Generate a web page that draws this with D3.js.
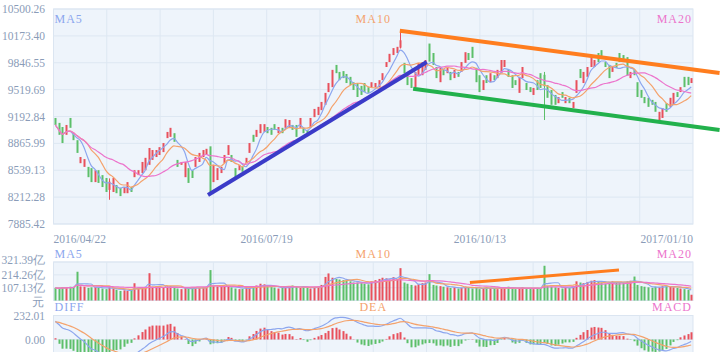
<!DOCTYPE html>
<html>
<head>
<meta charset="utf-8">
<script src="https://cdn.jsdelivr.net/npm/d3@7"></script>
<style>
  body { margin: 0; background: #fff; }
  svg { display: block; font-family: "Liberation Serif", "DejaVu Serif", serif; }
</style>
</head>
<body>
<div id="chart"></div>
<script>
// daily candles (index 0 = 2016/04/22)
const opens = [
  9175, 9115, 9065, 8970, 9175, 8990, 8905, 8625, 8580, 8580,
  8565, 8395, 8540, 8480, 8445, 8300, 8275, 8360, 8325, 8260,
  8260, 8335, 8455, 8480, 8505, 8540, 8605, 8665, 8700, 8725,
  8760, 8930, 8945, 8990, 8665, 8605, 8455, 8565, 8540, 8580,
  8640, 8700, 8725, 8830, 8395, 8420, 8505, 8625, 8725, 8725,
  8565, 8540, 8580, 8625, 8750, 8970, 8945, 8990, 9005, 9065,
  9055, 9100, 8990, 9055, 9055, 9065, 9090, 9090, 9055, 9055,
  9030, 9055, 9185, 9210, 9270, 9335, 9490, 9550, 9820, 9735,
  9745, 9710, 9675, 9610, 9600, 9565, 9600, 9550, 9550, 9550,
  9550, 9635, 9795, 9855, 9940, 9965, 10030, 9845, 9720, 9660,
  9550, 9695, 9695, 9760, 10080, 9965, 9795, 9610, 9760, 9720,
  9735, 9660, 9735, 9735, 9845, 9965, 10040, 9785, 9695, 9515,
  9695, 9610, 9695, 9660, 9720, 9795, 9760, 9695, 9635, 9480,
  9660, 9600, 9550, 9455, 9635, 9720, 9700, 9575, 9515, 9455,
  9355, 9490, 9355, 9420, 9295, 9480, 9770, 9600, 9675, 9795,
  9795, 9965, 10000, 9855, 9820, 9735, 9845, 9965, 9940, 9915,
  9660, 9760, 9610, 9515, 9430, 9420, 9395, 9370, 9150, 9175,
  9355, 9310, 9335, 9490, 9490, 9675, 9675, 9600
];
const closes = [
  9090, 8970, 8870, 9090, 9055, 8905, 8750, 8700, 8675, 8455,
  8395, 8540, 8385, 8335, 8275, 8400, 8445, 8260, 8225, 8335,
  8395, 8275, 8540, 8540, 8640, 8690, 8810, 8785, 8785, 8820,
  8870, 9005, 9055, 8885, 8580, 8640, 8640, 8385, 8445, 8700,
  8750, 8785, 8800, 8260, 8605, 8565, 8580, 8725, 8845, 8640,
  8455, 8605, 8520, 8690, 8870, 8885, 9030, 9100, 9100, 8990,
  8970, 9030, 9065, 8990, 9160, 9150, 9030, 8945, 9175, 8990,
  8970, 9175, 9285, 9310, 9370, 9480, 9600, 9760, 9720, 9635,
  9660, 9600, 9575, 9515, 9430, 9455, 9490, 9480, 9610, 9600,
  9635, 9720, 9855, 9955, 10025, 10040, 10120, 9720, 9575, 9540,
  9735, 9845, 9855, 9880, 9860, 9820, 9660, 9785, 9695, 9785,
  9635, 9760, 9675, 9855, 9975, 9880, 9905, 9610, 9490, 9635,
  9600, 9720, 9635, 9760, 9880, 9880, 9675, 9540, 9575, 9675,
  9795, 9515, 9490, 9540, 9515, 9540, 9560, 9420, 9335, 9335,
  9430, 9420, 9430, 9355, 9370, 9635, 9660, 9735, 9795, 9905,
  9880, 9855, 9905, 9795, 9660, 9795, 9785, 9855, 9855, 9695,
  9735, 9695, 9430, 9420, 9355, 9310, 9335, 9250, 9250, 9295,
  9250, 9420, 9480, 9430, 9550, 9550, 9575, 9660
];
// long shadows that stick out of the body: [index, high, low]
const wicks = [[15, 8440, 8180], [96, 10245, 10020], [136, 9735, 9150]];

// turnover in 亿元
const volumes = [
  105, 100, 110, 108, 115, 112, 240, 118, 115, 105,
  110, 112, 108, 100, 95, 110, 100, 90, 80, 85,
  80, 88, 144, 100, 105, 110, 228, 110, 105, 108,
  112, 118, 120, 110, 100, 95, 105, 100, 98, 110,
  105, 112, 115, 254, 120, 118, 115, 118, 122, 110,
  100, 95, 98, 110, 105, 115, 125, 140, 135, 120,
  112, 108, 100, 105, 110, 118, 125, 115, 105, 112,
  108, 100, 110, 115, 130, 197, 226, 190, 180, 175,
  170, 165, 160, 150, 150, 145, 140, 135, 160, 170,
  180, 190, 185, 175, 195, 180, 270, 150, 140, 130,
  125, 135, 145, 150, 220, 130, 125, 120, 115, 110,
  105, 110, 100, 105, 115, 110, 100, 105, 95, 100,
  110, 105, 100, 95, 105, 110, 115, 100, 95, 100,
  110, 105, 100, 95, 98, 105, 290, 120, 115, 110,
  105, 100, 110, 105, 115, 160, 150, 145, 155, 165,
  170, 160, 150, 140, 150, 160, 155, 150, 145, 160,
  165, 200, 130, 120, 115, 110, 105, 115, 110, 120,
  125, 115, 110, 105, 100, 95, 90, 48
];

const dateLabels = ["2016/04/22", "2016/07/19", "2016/10/13", "2017/01/10"];
const priceTicks = [7885.42, 8212.28, 8539.13, 8865.99, 9192.84, 9519.69, 9846.55, 10173.40, 10500.26];
const volTicks = [107.13, 214.26, 321.39];
const macdTicks = [0, 232.01];

// DIFF / DEA at the left edge of the MACD panel (history before the window)
const diffStart = 177, deaStart = 171;

// hand drawn trend lines: [index, value] pairs
const blueLine = [[42.5, 8238], [103.4, 9855]];
const orangeLine = [[95.9, 10236], [184.9, 9722]];
const greenLine = [[99.6, 9530], [184.9, 9028]];
const volLine = [[115.4, 150], [156.9, 254]];

const W = 720, H = 352;
const up = "#e8505c", down = "#5cbf6a";
const c5 = "#8ca6ee", c10 = "#f4a26c", c20 = "#ec74cc";
const labelColor = "#8a9cb8";

const svg = d3.select("#chart").append("svg")
    .attr("width", W).attr("height", H);

const N = closes.length;
const left = 53.5, right = 693;
const x = d3.scaleLinear().domain([-0.5, N - 0.5]).range([left, right]);
const yMain = d3.scaleLinear().domain([7885.42, 10500.26]).range([224, 9]);
const yVol = d3.scaleLinear().domain([0, 321.39]).range([300.5, 262]);
const yMacd = d3.scaleLinear().domain([0, 232.01]).range([339.5, 315.5]);

// moving averages
const ma = (arr, n) => arr.map((d, i) => d3.mean(arr.slice(Math.max(0, i - n + 1), i + 1)));

// MACD 12/26/9
let e26 = closes[0] - 60, e12 = e26 + diffStart, dea = deaStart;
const diff = [], deaArr = [], hist = [];
closes.forEach((c, i) => {
    if (i > 0) {
        e12 += (c - e12) * 2 / 13;
        e26 += (c - e26) * 2 / 27;
        dea += ((e12 - e26) - dea) * 2 / 10;
    }
    diff.push(e12 - e26);
    deaArr.push(dea);
    hist.push(2 * (e12 - e26 - dea));
});

// panel backgrounds + grid
function panel(top, bottom, hTicks) {
    const g = svg.append("g");
    g.append("rect")
        .attr("x", left).attr("y", top)
        .attr("width", right - left).attr("height", bottom - top)
        .attr("fill", "#eef4fb").attr("stroke", "#dbe5f1");
    g.selectAll(".v").data(d3.range(1, 12)).join("line")
        .attr("x1", d => left + d * (right - left) / 12)
        .attr("x2", d => left + d * (right - left) / 12)
        .attr("y1", top).attr("y2", bottom)
        .attr("stroke", "#dde7f2");
    g.selectAll(".h").data(hTicks).join("line")
        .attr("x1", left).attr("x2", right)
        .attr("y1", d => d).attr("y2", d => d)
        .attr("stroke", "#dde7f2");
}
panel(9, 224, priceTicks.map(yMain));
panel(262, 300.5, volTicks.map(yVol));
panel(315.5, 380, [yMacd(0)]);

// y labels
svg.append("g").selectAll("text").data(priceTicks).join("text")
    .attr("x", 45).attr("y", d => yMain(d) + 4)
    .attr("text-anchor", "end").attr("font-size", 11.5).attr("fill", labelColor)
    .text(d => d.toFixed(2));
svg.append("g").selectAll("text").data(volTicks).join("text")
    .attr("x", 45).attr("y", (d, i) => yVol(d) + 4 - (i === 2 ? 2.5 : 0))
    .attr("text-anchor", "end").attr("font-size", 11.5).attr("fill", labelColor)
    .text(d => d.toFixed(2) + "亿");
svg.append("text").attr("x", 44).attr("y", yVol(0) + 5)
    .attr("text-anchor", "end").attr("font-size", 11.5).attr("fill", labelColor).text("元");
svg.append("g").selectAll("text").data(macdTicks).join("text")
    .attr("x", 45).attr("y", d => yMacd(d) + 4)
    .attr("text-anchor", "end").attr("font-size", 11.5).attr("fill", labelColor)
    .text(d => d.toFixed(2));

// x labels
svg.append("g").selectAll("text").data(dateLabels).join("text")
    .attr("x", (d, i) => left + i * (right - left) / 3)
    .attr("y", 243)
    .attr("text-anchor", (d, i) => i === 0 ? "start" : i === 3 ? "end" : "middle")
    .attr("font-size", 11.5).attr("fill", labelColor)
    .text(d => d);

// legend texts
function legend(y, names, colors) {
    [[left + 1, "start"], [(left + right) / 2, "middle"], [right - 1, "end"]].forEach((p, i) => {
        svg.append("text").attr("x", p[0]).attr("y", y)
            .attr("text-anchor", p[1]).attr("font-size", 12)
            .attr("letter-spacing", 1).attr("fill", colors[i]).text(names[i]);
    });
}
legend(23, ["MA5", "MA10", "MA20"], [c5, c10, c20]);
legend(258, ["MA5", "MA10", "MA20"], [c5, c10, c20]);
legend(311, ["DIFF", "DEA", "MACD"], [c5, c10, c20]);

// candles
const candles = svg.append("g");
const colorOf = i => closes[i] >= opens[i] ? up : down;
candles.selectAll("line").data(wicks).join("line")
    .attr("x1", d => Math.round(x(d[0])) + 0.5).attr("x2", d => Math.round(x(d[0])) + 0.5)
    .attr("y1", d => yMain(d[1])).attr("y2", d => yMain(d[2]))
    .attr("stroke", d => colorOf(d[0]));
candles.selectAll("rect").data(closes).join("rect")
    .attr("x", (d, i) => Math.round(x(i)) - 0.5)
    .attr("width", 2)
    .attr("y", (d, i) => yMain(Math.max(d, opens[i])))
    .attr("height", (d, i) => Math.max(1, Math.abs(yMain(d) - yMain(opens[i]))))
    .attr("fill", (d, i) => colorOf(i));

// MA lines
const lineOf = (ys) => d3.line().x((d, i) => x(i)).y(d => ys(d)).curve(d3.curveMonotoneX);
[[5, c5], [10, c10], [20, c20]].forEach(([n, c]) => {
    svg.append("path").datum(ma(closes, n))
        .attr("fill", "none").attr("stroke", c).attr("stroke-width", 1.2)
        .attr("d", lineOf(yMain));
});

// volume
svg.append("g").selectAll("rect").data(volumes).join("rect")
    .attr("x", (d, i) => Math.round(x(i)) - 0.5).attr("width", 2)
    .attr("y", d => yVol(d)).attr("height", d => yVol(0) - yVol(d))
    .attr("fill", (d, i) => colorOf(i));
[[5, c5], [10, c10], [20, c20]].forEach(([n, c]) => {
    svg.append("path").datum(ma(volumes, n))
        .attr("fill", "none").attr("stroke", c).attr("stroke-width", 1.2)
        .attr("d", lineOf(yVol));
});

// MACD
svg.append("g").selectAll("rect").data(hist).join("rect")
    .attr("x", (d, i) => Math.round(x(i)) - 0.5).attr("width", 2)
    .attr("y", d => Math.min(yMacd(d), yMacd(0)))
    .attr("height", d => Math.abs(yMacd(d) - yMacd(0)))
    .attr("fill", d => d >= 0 ? up : down);
svg.append("path").datum(diff)
    .attr("fill", "none").attr("stroke", c5).attr("stroke-width", 1.2)
    .attr("d", lineOf(yMacd));
svg.append("path").datum(deaArr)
    .attr("fill", "none").attr("stroke", c10).attr("stroke-width", 1.2)
    .attr("d", lineOf(yMacd));

// trend lines
const seg = (pts, ys, color, w) => svg.append("line")
    .attr("x1", x(pts[0][0])).attr("y1", ys(pts[0][1]))
    .attr("x2", x(pts[1][0])).attr("y2", ys(pts[1][1]))
    .attr("stroke", color).attr("stroke-width", w);
seg(blueLine, yMain, "#3b3bc8", 4);
seg(orangeLine, yMain, "#ff7d1e", 4);
seg(greenLine, yMain, "#22b14c", 4);
seg(volLine, yVol, "#ff7d1e", 3);
</script>
</body>
</html>
